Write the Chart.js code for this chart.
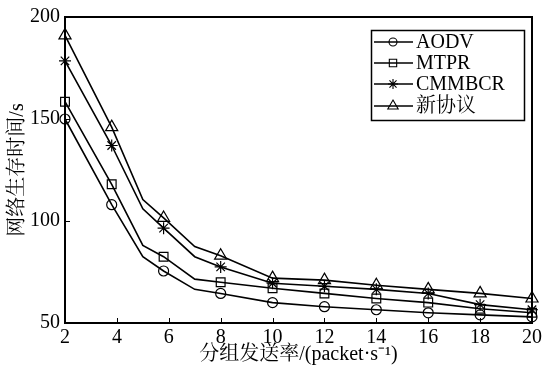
<!DOCTYPE html>
<html>
<head>
<meta charset="utf-8">
<script src="https://cdn.jsdelivr.net/npm/chart.js@4/dist/chart.umd.min.js"></script>
<style>
  html, body { margin: 0; padding: 0; background: #fff; }
  #wrap { width: 545px; height: 368px; }
</style>
</head>
<body>
<div id="wrap"><canvas id="chart"></canvas></div>
<script>
// packet rate (x) for each sampled point; markers only where the figure shows one
const rates = [2, 3.8, 5, 5.8, 7, 8, 10, 12, 14, 16, 18, 20];
const withMarker = [true, true, false, true, false, true, true, true, true, true, true, true];

const aodv   = [150, 108, 82.5, 75.5, 66.5, 64.5, 60, 58, 56.5, 55, 54, 53];
const mtpr   = [158.5, 118, 88, 82.5, 71.5, 70, 67, 64.5, 62, 60, 57, 55];
const cmmbcr = [178.5, 137, 106, 96.5, 82.5, 77.5, 69.5, 68, 66.5, 64.5, 59, 56.5];
const newProto = [191, 146, 110.5, 101.5, 87.5, 83, 72, 71, 68.5, 66.5, 64.5, 62];

const seriesNames = ['AODV', 'MTPR', 'CMMBCR', '新协议'];
const markerStyles = ['circle', 'rect', 'star', 'triangle'];
const markerSizes = [5, 6.2, 6, 7];

const xTicks = [2, 4, 6, 8, 10, 12, 14, 16, 18, 20];
const yTicks = [50, 100, 150, 200];

const serif = "'Liberation Serif', 'Times New Roman', 'Noto Serif CJK SC', serif";

function toPoints(values) {
  return values.map((v, i) => ({ x: rates[i], y: v }));
}

const allSeries = [aodv, mtpr, cmmbcr, newProto];
const datasets = allSeries.map((vals, k) => ({
  label: seriesNames[k],
  data: toPoints(vals),
  borderColor: '#000',
  borderWidth: 1.6,
  pointStyle: markerStyles[k],
  pointRadius: ctx => withMarker[ctx.dataIndex] ? markerSizes[k] : 0,
  pointBorderWidth: 1.2,
  pointBorderColor: '#000',
  pointBackgroundColor: 'transparent',
  tension: 0,
  clip: false
}));

// box round the plot and inward tick marks
const frameTicks = {
  id: 'frameTicks',
  afterDatasetsDraw(chart) {
    const { ctx, chartArea: a, scales: { x, y } } = chart;
    ctx.save();
    ctx.strokeStyle = '#000';
    ctx.lineWidth = 1;
    ctx.beginPath();
    xTicks.forEach(v => {
      const px = Math.round(x.getPixelForValue(v)) + 0.5;
      ctx.moveTo(px, a.bottom);
      ctx.lineTo(px, a.bottom - 5);
    });
    yTicks.forEach(v => {
      const py = Math.round(y.getPixelForValue(v)) + 0.5;
      ctx.moveTo(a.left, py);
      ctx.lineTo(a.left + 5, py);
    });
    ctx.stroke();
    ctx.lineWidth = 2;
    ctx.strokeRect(Math.round(a.left), Math.round(a.top), Math.round(a.right - a.left), Math.round(a.bottom - a.top));
    ctx.restore();
  }
};

// legend box in the upper right, line sample with hollow marker
const boxLegend = {
  id: 'boxLegend',
  afterDraw(chart) {
    const { ctx, chartArea: a } = chart;
    const right = a.right - 8, top = a.top + 13;
    const w = 153, h = 90;
    const left = right - w;
    ctx.save();
    ctx.fillStyle = '#fff';
    ctx.fillRect(left, top, w, h);
    ctx.strokeStyle = '#000';
    ctx.lineWidth = 1.5;
    ctx.strokeRect(left + 0.5, top + 0.5, w, h);
    const rows = [12, 33, 54, 76];
    chart.data.datasets.forEach((ds, i) => {
      const yy = top + rows[i];
      ctx.strokeStyle = '#000';
      ctx.lineWidth = 1.5;
      ctx.beginPath();
      ctx.moveTo(left + 3, yy);
      ctx.lineTo(left + 42, yy);
      ctx.stroke();
      ctx.lineWidth = 1.1;
      ctx.fillStyle = 'rgba(0,0,0,0)';
      Chart.helpers.drawPoint(ctx, { pointStyle: ds.pointStyle, radius: markerSizes[i] - 1, borderWidth: 1.1 }, left + 22, yy);
      ctx.fillStyle = '#000';
      ctx.font = '20px ' + serif;
      ctx.textBaseline = 'middle';
      ctx.textAlign = 'left';
      ctx.fillText(ds.label, left + 45, yy + 1);
    });
    ctx.restore();
  }
};

new Chart(document.getElementById('chart'), {
  type: 'line',
  data: { datasets },
  options: {
    responsive: true,
    maintainAspectRatio: false,
    animation: false,
    layout: { padding: { left: 0, right: 11, top: 17, bottom: 0 } },
    plugins: {
      legend: { display: false },
      tooltip: { enabled: false }
    },
    scales: {
      x: {
        type: 'linear',
        min: 2,
        max: 20,
        afterBuildTicks: s => { s.ticks = xTicks.map(v => ({ value: v })); },
        afterFit: s => { s.height = 45; },
        grid: { display: false, drawTicks: false },
        border: { display: false },
        ticks: { color: '#000', padding: 3, font: { family: serif, size: 20 } },
        title: {
          display: true,
          text: '分组发送率/(packet·s⁻¹)',
          color: '#000',
          font: { family: serif, size: 20 },
          padding: { top: 0, bottom: 1 }
        }
      },
      y: {
        min: 50,
        max: 200,
        afterBuildTicks: s => { s.ticks = yTicks.map(v => ({ value: v })); },
        afterFit: s => { s.width = 65; },
        grid: { display: false, drawTicks: false },
        border: { display: false },
        ticks: { color: '#000', padding: 5, font: { family: serif, size: 20 } },
        title: {
          display: true,
          text: '网络生存时间/s',
          color: '#000',
          font: { family: serif, size: 20 },
          padding: { top: 6, bottom: 0 }
        }
      }
    }
  },
  plugins: [frameTicks, boxLegend]
});
</script>
</body>
</html>
